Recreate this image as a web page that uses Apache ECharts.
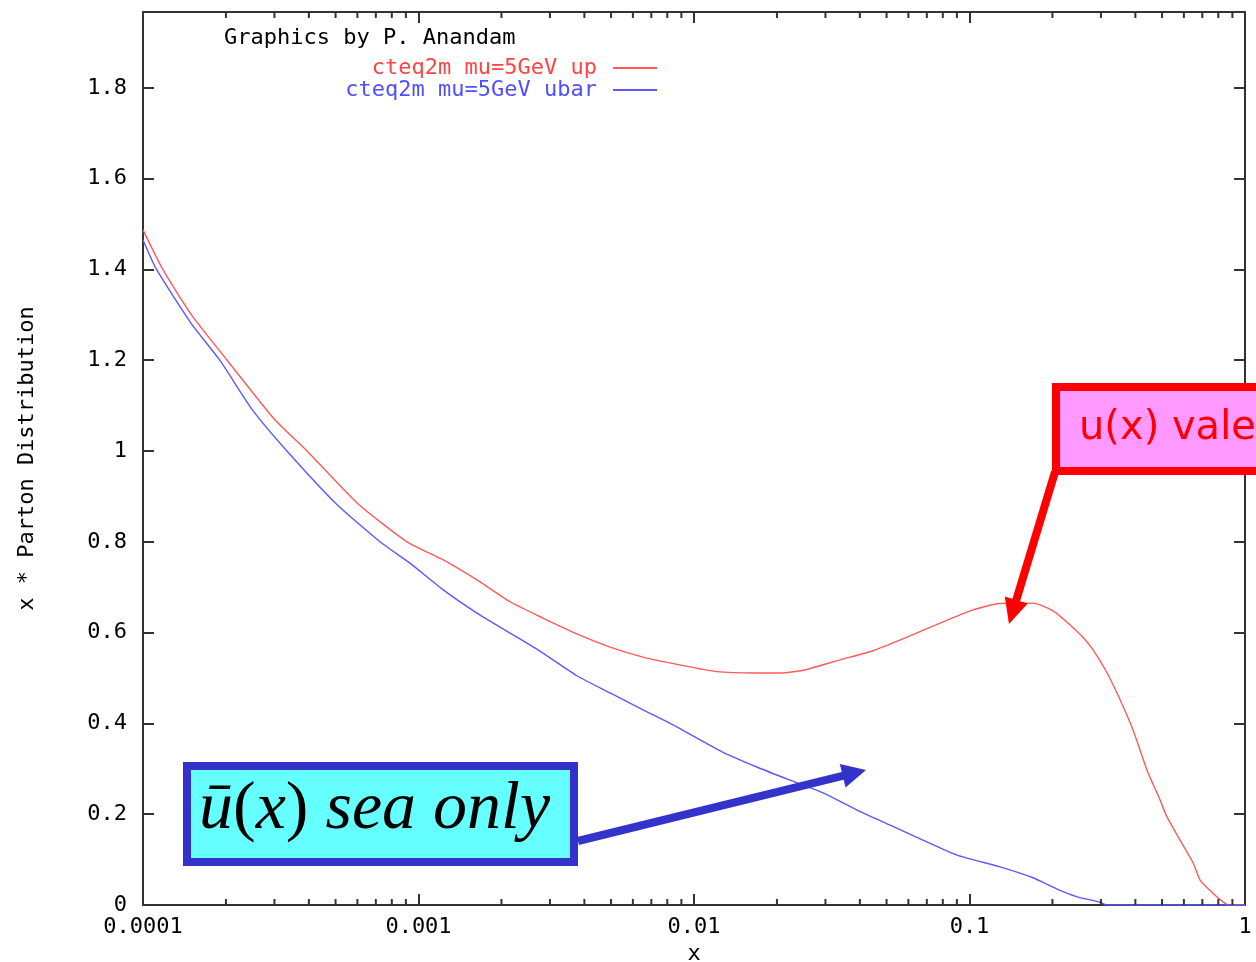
<!DOCTYPE html>
<html>
<head>
<meta charset="utf-8">
<title>cteq2m mu=5GeV parton distributions</title>
<script src="https://cdn.jsdelivr.net/npm/echarts@6/dist/echarts.min.js"></script>
<style>
html, body { margin: 0; padding: 0; background: #fff; }
#main { width: 1256px; height: 962px; }
</style>
</head>
<body>
<div id="main"></div>
<script>
// x * u(x), cteq2m at mu = 5 GeV
var upX = [0.0001, 0.000118, 0.00015, 0.000202, 0.0003, 0.000394, 0.0006, 0.000909, 0.00123, 0.00163,
  0.00215, 0.00283, 0.00376, 0.00496, 0.00653, 0.00868, 0.0121, 0.0169, 0.0205, 0.0249,
  0.0339, 0.0446, 0.0593, 0.0782, 0.103, 0.129, 0.170, 0.201, 0.226, 0.258,
  0.281, 0.316, 0.352, 0.392, 0.441, 0.492, 0.521, 0.581, 0.648, 0.687,
  0.765, 0.832, 0.870, 1];
var upY = [1.487, 1.40, 1.30, 1.20, 1.07, 1.00, 0.885, 0.80, 0.760, 0.716,
  0.668, 0.632, 0.597, 0.568, 0.546, 0.530, 0.514, 0.511, 0.511, 0.517,
  0.540, 0.560, 0.590, 0.621, 0.650, 0.664, 0.665, 0.648, 0.623, 0.590,
  0.562, 0.511, 0.452, 0.386, 0.297, 0.231, 0.194, 0.143, 0.093, 0.055,
  0.026, 0.007, 0, 0];

// x * ubar(x)
var ubarX = [0.0001, 0.000112, 0.00015, 0.000190, 0.00025, 0.000333, 0.0005, 0.000725, 0.000931, 0.00123,
  0.00163, 0.00215, 0.00283, 0.00376, 0.00496, 0.00653, 0.00868, 0.0127, 0.0169, 0.0223,
  0.0294, 0.0391, 0.0515, 0.0678, 0.0901, 0.129, 0.170, 0.208, 0.246, 0.298,
  0.315, 1];
var ubarY = [1.465, 1.40, 1.28, 1.20, 1.09, 1.00, 0.885, 0.80, 0.753, 0.694,
  0.643, 0.599, 0.555, 0.505, 0.467, 0.430, 0.392, 0.337, 0.304, 0.275,
  0.247, 0.209, 0.176, 0.143, 0.110, 0.084, 0.060, 0.035, 0.018, 0.006,
  0, 0];

var upName = 'cteq2m mu=5GeV up';
var ubarName = 'cteq2m mu=5GeV ubar';

// log axis minor ticks (2..9 in every decade)
var decades = [0.0001, 0.001, 0.01, 0.1];
var minorMult = [2, 3, 4, 5, 6, 7, 8, 9];

var monoFont = 'DejaVu Sans Mono';
var monoSize = 22;
var frameColor = '#333';

function pairs(xs, ys) {
  return xs.map(function (x, i) { return [x, ys[i]]; });
}

var minorTicks = [];
decades.forEach(function (d) {
  minorMult.forEach(function (m) {
    minorTicks.push([d * m, 0]);
  });
});

// arrow = thick shaft + triangular head
function arrow(x1, y1, x2, y2, color, width, headLen, headHalf) {
  var dx = x2 - x1, dy = y2 - y1;
  var len = Math.sqrt(dx * dx + dy * dy);
  var ux = dx / len, uy = dy / len;
  var bx = x2 - ux * headLen, by = y2 - uy * headLen;
  return [{
    type: 'polyline',
    z: 101,
    shape: { points: [[x1, y1], [bx + ux * 2, by + uy * 2]] },
    style: { stroke: color, lineWidth: width, fill: null }
  }, {
    type: 'polygon',
    z: 102,
    shape: { points: [[x2, y2], [bx - uy * headHalf, by + ux * headHalf], [bx + uy * headHalf, by - ux * headHalf]] },
    style: { fill: color }
  }];
}

function fmtX(v) {
  return String(parseFloat(Number(v).toPrecision(6)));
}

function legendBox(name, color, top) {
  return {
    data: [{ name: name, textStyle: { color: color } }],
    orient: 'vertical',
    align: 'right',
    right: 599,
    top: top,
    padding: 0,
    icon: 'rect',
    itemWidth: 44,
    itemHeight: 2,
    textStyle: { fontFamily: monoFont, fontSize: monoSize, padding: [0, 11, 0, 0] }
  };
}

var chart = echarts.init(document.getElementById('main'));

var graphics = [
  // blue callout
  {
    type: 'rect', z: 100,
    shape: { x: 187, y: 766, width: 387, height: 96 },
    style: { fill: '#66ffff', stroke: '#3333cc', lineWidth: 8 }
  },
  {
    type: 'text', z: 103, x: 199, y: 810,
    style: {
      text: '{i|ū}{n|(}{i|x}{n|)}{i| sea only}',
      verticalAlign: 'middle',
      fill: '#000',
      rich: {
        i: { fontFamily: 'Liberation Serif', fontStyle: 'italic', fontSize: 68, fill: '#000' },
        n: { fontFamily: 'Liberation Serif', fontSize: 68, fill: '#000' }
      }
    }
  },
  // red callout, runs off the right edge
  {
    type: 'rect', z: 100,
    shape: { x: 1056, y: 387, width: 400, height: 84 },
    style: { fill: '#ff99ff', stroke: '#ff0000', lineWidth: 8 }
  },
  {
    type: 'text', z: 103, x: 1079, y: 429,
    style: {
      text: 'u(x) valence',
      fontFamily: 'DejaVu Sans',
      fontSize: 40,
      fill: '#ff0000',
      verticalAlign: 'middle'
    }
  }
].concat(arrow(578, 841, 866, 770, '#3333cc', 8, 24, 12))
 .concat(arrow(1055, 472, 1009, 624, '#ff0000', 8, 25, 12));

var frameAxisLine = { show: true, onZero: false, lineStyle: { color: frameColor, width: 2 } };
var frameTick = { show: true, inside: true, length: 11, lineStyle: { color: frameColor, width: 2 } };

var option = {
  backgroundColor: '#fff',
  animation: false,
  title: {
    text: 'Graphics by P. Anandam',
    left: 224,
    top: 27,
    padding: 0,
    textStyle: { fontFamily: monoFont, fontSize: monoSize, fontWeight: 'normal', color: '#000' }
  },
  legend: [legendBox(upName, '#ff4444', 57), legendBox(ubarName, '#4f4fff', 79)],
  grid: { left: 143, right: 11, top: 12, bottom: 57, containLabel: false, outerBoundsMode: 'none' },
  xAxis: [{
    type: 'log',
    logBase: 10,
    min: 0.0001,
    max: 1,
    position: 'bottom',
    name: 'x',
    nameLocation: 'middle',
    nameGap: 33,
    nameTextStyle: { fontFamily: monoFont, fontSize: monoSize, color: '#000' },
    axisLine: frameAxisLine,
    axisTick: frameTick,
    axisLabel: { fontFamily: monoFont, fontSize: monoSize, color: '#000', margin: 11, formatter: fmtX },
    splitLine: { show: false }
  }, {
    type: 'log',
    logBase: 10,
    min: 0.0001,
    max: 1,
    position: 'top',
    axisLine: frameAxisLine,
    axisTick: frameTick,
    axisLabel: { show: false },
    splitLine: { show: false }
  }],
  yAxis: [{
    type: 'value',
    min: 0,
    max: 1.967,
    interval: 0.2,
    position: 'left',
    name: 'x * Parton Distribution',
    nameLocation: 'middle',
    nameGap: 105,
    nameRotate: 90,
    nameTextStyle: { fontFamily: monoFont, fontSize: monoSize, color: '#000' },
    axisLine: frameAxisLine,
    axisTick: frameTick,
    axisLabel: { fontFamily: monoFont, fontSize: monoSize, color: '#000', margin: 16, showMaxLabel: false },
    splitLine: { show: false }
  }, {
    type: 'value',
    min: 0,
    max: 1.967,
    interval: 0.2,
    position: 'right',
    axisLine: frameAxisLine,
    axisTick: frameTick,
    axisLabel: { show: false },
    splitLine: { show: false }
  }],
  series: [{
    name: upName,
    type: 'line',
    symbol: 'none',
    smooth: 0.2,
    data: pairs(upX, upY),
    lineStyle: { color: '#ff5a5a', width: 1.4 },
    itemStyle: { color: '#ff5a5a' }
  }, {
    name: ubarName,
    type: 'line',
    symbol: 'none',
    smooth: 0.2,
    data: pairs(ubarX, ubarY),
    lineStyle: { color: '#5a5aff', width: 1.4 },
    itemStyle: { color: '#5a5aff' }
  }, {
    // minor log ticks on bottom and top frame
    type: 'custom',
    silent: true,
    clip: false,
    z: 5,
    data: minorTicks,
    renderItem: function (params, api) {
      var p = api.coord([api.value(0), 0]);
      var cs = params.coordSys;
      var bottom = cs.y + cs.height;
      return {
        type: 'group',
        children: [{
          type: 'line',
          shape: { x1: p[0], y1: bottom, x2: p[0], y2: bottom - 6 },
          style: { stroke: frameColor, lineWidth: 2 }
        }, {
          type: 'line',
          shape: { x1: p[0], y1: cs.y, x2: p[0], y2: cs.y + 6 },
          style: { stroke: frameColor, lineWidth: 2 }
        }]
      };
    }
  }],
  graphic: graphics
};

chart.setOption(option);
</script>
</body>
</html>
